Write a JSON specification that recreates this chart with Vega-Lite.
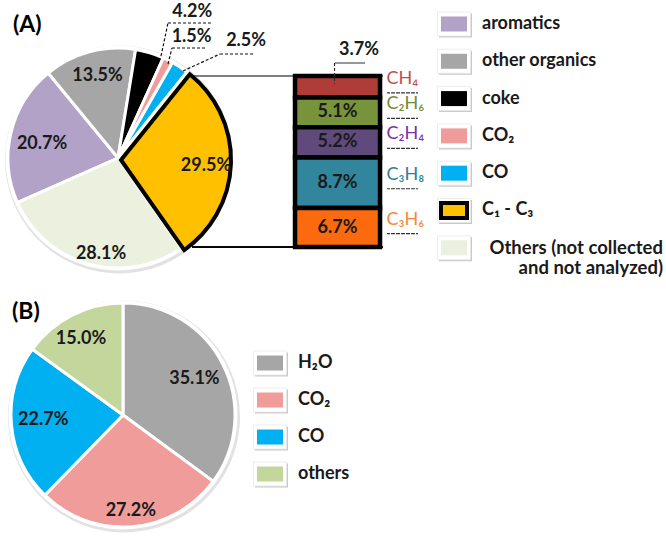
{
  "$schema": "https://vega.github.io/schema/vega-lite/v6.json",
  "background": "white",
  "padding": {"left": 2, "top": 2, "right": 0, "bottom": 0},
  "config": {"view": {"stroke": null}, "font": "Lato"},
  "datasets": {
    "A": [
      {"cat": "aromatics", "share": 0.207, "idx": 1},
      {"cat": "other organics", "share": 0.135, "idx": 2},
      {"cat": "coke", "share": 0.042, "idx": 3},
      {"cat": "CO₂", "share": 0.015, "idx": 4},
      {"cat": "CO", "share": 0.025, "idx": 5},
      {"cat": "C₁ - C₃", "share": 0.295, "idx": 6},
      {"cat": "Others (not collected and not analyzed)", "share": 0.281, "idx": 7}
    ],
    "B": [
      {"cat": "H₂O", "share": 0.351, "idx": 1},
      {"cat": "CO₂", "share": 0.272, "idx": 2},
      {"cat": "CO", "share": 0.227, "idx": 3},
      {"cat": "others", "share": 0.150, "idx": 4}
    ],
    "gases": [
      {"gas": "CH₄", "share": 0.037, "idx": 1, "of": "C₁ - C₃"},
      {"gas": "C₂H₆", "share": 0.051, "idx": 2, "of": "C₁ - C₃"},
      {"gas": "C₂H₄", "share": 0.052, "idx": 3, "of": "C₁ - C₃"},
      {"gas": "C₃H₈", "share": 0.087, "idx": 4, "of": "C₁ - C₃"},
      {"gas": "C₃H₆", "share": 0.067, "idx": 5, "of": "C₁ - C₃"}
    ]
  },
  "columns": 3,
  "align": "none",
  "bounds": "flush",
  "spacing": {"row": 0, "column": 0},
  "resolve": {"scale": {"fill": "independent", "theta": "independent", "x": "independent", "y": "independent", "opacity": "independent"}},
  "concat": [
    {
      "width": 148,
      "height": 294,
      "title": {"text": "(A)", "anchor": "start", "frame": "group", "fontSize": 23, "font": "Lato", "fontWeight": "bold", "color": "#000000", "baseline": "middle", "offset": 0, "dx": -31, "dy": 45.5},
      "data": {"name": "A"},
      "layer": [
        {
          "encoding": {
            "theta": {"field": "share", "type": "quantitative", "stack": true, "scale": {"range": [-1.988, 4.295]}},
            "order": {"field": "idx", "type": "quantitative"},
            "detail": {"field": "cat", "type": "nominal"}
          },
          "layer": [
            {"mark": {"type": "arc", "outerRadius": 114, "fill": "#e2e2e2", "xOffset": 1, "yOffset": 1.5}},
            {"mark": {"type": "arc", "outerRadius": 112.5, "fill": "white"}},
            {
              "mark": {"type": "arc", "outerRadius": 110, "stroke": "white", "strokeWidth": 3},
              "encoding": {"fill": {"field": "cat", "type": "nominal", "legend": null,
                "scale": {"domain": ["aromatics", "other organics", "coke", "CO₂", "CO", "C₁ - C₃", "Others (not collected and not analyzed)"],
                          "range": ["#B3A2C7", "#A6A6A6", "#000000", "#F09C9A", "#00B0F0", "#FFC000", "#EBF1DE"]}}}
            },
            {
              "mark": {"type": "arc", "outerRadius": 110, "stroke": "black", "strokeWidth": 4, "xOffset": 3, "yOffset": 2, "strokeJoin": "miter"},
              "encoding": {
                "fill": {"field": "cat", "type": "nominal", "legend": null},
                "opacity": {"condition": {"test": "datum.cat === 'C₁ - C₃'", "value": 1}, "value": 0}
              }
            },
            {"mark": {"type": "text", "radius": 85, "dx": 1.6, "dy": 0, "fontSize": 18, "fontWeight": "bold", "fill": "#1a1a1a"},
             "encoding": {"text": {"condition": {"test": "datum.cat === 'other organics'", "field": "share", "type": "quantitative", "format": ".1%"}, "value": ""}}},
            {"mark": {"type": "text", "radius": 76, "dx": -2, "dy": 4, "fontSize": 18, "fontWeight": "bold", "fill": "#1a1a1a"},
             "encoding": {"text": {"condition": {"test": "datum.cat === 'aromatics'", "field": "share", "type": "quantitative", "format": ".1%"}, "value": ""}}},
            {"mark": {"type": "text", "radius": 97, "dx": 9, "dy": 3, "fontSize": 18, "fontWeight": "bold", "fill": "#1a1a1a"},
             "encoding": {"text": {"condition": {"test": "datum.cat === 'Others (not collected and not analyzed)'", "field": "share", "type": "quantitative", "format": ".1%"}, "value": ""}}},
            {"mark": {"type": "text", "radius": 87, "dx": 1, "dy": 5, "fontSize": 18, "fontWeight": "bold", "fill": "#1a1a1a"},
             "encoding": {"text": {"condition": {"test": "datum.cat === 'C₁ - C₃'", "field": "share", "type": "quantitative", "format": ".1%"}, "value": ""}}},
            {"mark": {"type": "text", "radius": 150, "dx": 31, "dy": -2, "fontSize": 18, "fontWeight": "bold", "fill": "#1a1a1a"},
             "encoding": {"text": {"condition": {"test": "datum.cat === 'coke'", "field": "share", "type": "quantitative", "format": ".1%"}, "value": ""}}},
            {"mark": {"type": "text", "radius": 130, "dx": 14.5, "dy": -5, "fontSize": 18, "fontWeight": "bold", "fill": "#1a1a1a"},
             "encoding": {"text": {"condition": {"test": "datum.cat === 'CO₂'", "field": "share", "type": "quantitative", "format": ".1%"}, "value": ""}}},
            {"mark": {"type": "text", "radius": 150, "dx": 43.7, "dy": 7, "fontSize": 18, "fontWeight": "bold", "fill": "#1a1a1a"},
             "encoding": {"text": {"condition": {"test": "datum.cat === 'CO'", "field": "share", "type": "quantitative", "format": ".1%"}, "value": ""}}}
          ]
        },
        {"transform": [{"filter": "datum.cat === 'coke'"}],
         "mark": {"type": "rule", "stroke": "#111111", "strokeWidth": 1.2, "strokeDash": [3, 2]},
         "encoding": {"x": {"datum": 0.391, "type": "quantitative", "scale": {"domain": [-0.6727, 0.6727], "nice": false, "zero": false}, "axis": null},
                      "y": {"datum": 0.927, "type": "quantitative", "scale": {"domain": [-1.3364, 1.3364], "nice": false, "zero": false}, "axis": null},
                      "x2": {"datum": 0.4545}, "y2": {"datum": 1.2273}}},
        {"transform": [{"filter": "datum.cat === 'coke'"}],
         "mark": {"type": "rule", "stroke": "#111111", "strokeWidth": 1.2, "strokeDash": [3, 2]},
         "encoding": {"x": {"datum": 0.4545, "type": "quantitative"}, "y": {"datum": 1.2273, "type": "quantitative"},
                      "x2": {"datum": 0.8636}, "y2": {"datum": 1.2273}}},
        {"transform": [{"filter": "datum.cat === 'CO₂'"}],
         "mark": {"type": "rule", "stroke": "#111111", "strokeWidth": 1.2, "strokeDash": [3, 2]},
         "encoding": {"x": {"datum": 0.4545, "type": "quantitative"}, "y": {"datum": 0.8545, "type": "quantitative"},
                      "x2": {"datum": 0.4909}, "y2": {"datum": 1.0}}},
        {"transform": [{"filter": "datum.cat === 'CO₂'"}],
         "mark": {"type": "rule", "stroke": "#111111", "strokeWidth": 1.2, "strokeDash": [3, 2]},
         "encoding": {"x": {"datum": 0.4909, "type": "quantitative"}, "y": {"datum": 1.0, "type": "quantitative"},
                      "x2": {"datum": 0.8091}, "y2": {"datum": 1.0}}},
        {"transform": [{"filter": "datum.cat === 'CO'"}],
         "mark": {"type": "rule", "stroke": "#111111", "strokeWidth": 1.2, "strokeDash": [3, 2]},
         "encoding": {"x": {"datum": 0.5909, "type": "quantitative"}, "y": {"datum": 0.7909, "type": "quantitative"},
                      "x2": {"datum": 0.9273}, "y2": {"datum": 0.9455}}},
        {"transform": [{"filter": "datum.cat === 'CO'"}],
         "mark": {"type": "rule", "stroke": "#111111", "strokeWidth": 1.2, "strokeDash": [3, 2]},
         "encoding": {"x": {"datum": 0.9273, "type": "quantitative"}, "y": {"datum": 0.9455, "type": "quantitative"},
                      "x2": {"datum": 1.2273}, "y2": {"datum": 0.9455}}}
      ]
    },
    {
      "width": 191,
      "height": 294,
      "data": {"name": "gases"},
      "transform": [{"stack": "share", "groupby": ["of"], "sort": [{"field": "idx", "order": "descending"}], "as": ["v0", "v1"]}],
      "resolve": {"scale": {"fill": "independent"}},
      "layer": [
        {"mark": {"type": "rule", "stroke": "#000000", "strokeWidth": 1.2},
         "encoding": {"y": {"aggregate": "sum", "field": "share", "type": "quantitative", "scale": {"domain": [-0.0997, 0.4058], "nice": false, "zero": false}, "axis": null}}},
        {"mark": {"type": "rule", "stroke": "#000000", "strokeWidth": 1.2},
         "encoding": {"y": {"datum": 0, "type": "quantitative"}}},
        {"mark": {"type": "bar", "stroke": "#000000", "strokeWidth": 4.5},
         "encoding": {
           "x": {"field": "of", "type": "nominal", "axis": null, "scale": {"paddingInner": 0, "paddingOuter": 0.6235, "align": 0.972}},
           "y": {"field": "v0", "type": "quantitative"},
           "y2": {"field": "v1"},
           "fill": {"field": "gas", "type": "nominal", "legend": null,
                    "scale": {"domain": ["CH₄", "C₂H₆", "C₂H₄", "C₃H₈", "C₃H₆"], "range": ["#B03C38", "#77933C", "#604A7B", "#31859C", "#FB6A0F"]}}
         }},
        {"transform": [{"fold": ["v0", "v1"], "as": ["edge", "pos"]},
                       {"aggregate": [{"op": "mean", "field": "pos", "as": "mid"}], "groupby": ["gas", "share", "of"]},
                       {"filter": "datum.gas !== 'CH₄'"}],
         "mark": {"type": "text", "fontSize": 18, "fontWeight": "bold", "fill": "#1a1a1a"},
         "encoding": {"x": {"field": "of", "type": "nominal"}, "y": {"field": "mid", "type": "quantitative"},
                      "text": {"field": "share", "type": "quantitative", "format": ".1%"}}},
        {"transform": [{"fold": ["v0", "v1"], "as": ["edge", "pos"]},
                       {"aggregate": [{"op": "mean", "field": "pos", "as": "mid"}], "groupby": ["gas", "share", "of"]}],
         "mark": {"type": "text", "fontSize": 18, "align": "left", "dx": 49, "dy": -8},
         "encoding": {"x": {"field": "of", "type": "nominal"}, "y": {"field": "mid", "type": "quantitative"},
                      "text": {"field": "gas"},
                      "fill": {"field": "gas", "type": "nominal", "legend": null,
                               "scale": {"domain": ["CH₄", "C₂H₆", "C₂H₄", "C₃H₈", "C₃H₆"], "range": ["#C0504D", "#6F8B35", "#7A30A8", "#2E7F95", "#F7873A"]}}}},
        {"transform": [{"fold": ["v0", "v1"], "as": ["edge", "pos"]},
                       {"aggregate": [{"op": "mean", "field": "pos", "as": "mid"}], "groupby": ["gas", "share", "of"]}],
         "mark": {"type": "tick", "orient": "horizontal", "size": 31, "thickness": 0, "filled": false, "stroke": "#333333", "strokeWidth": 1.2, "strokeDash": [3, 2], "xOffset": 65, "yOffset": 6, "opacity": 1},
         "encoding": {"x": {"field": "of", "type": "nominal"}, "y": {"field": "mid", "type": "quantitative"}}},
        {"transform": [{"filter": "datum.gas === 'CH₄'"}],
         "mark": {"type": "text", "fontSize": 18, "fontWeight": "bold", "fill": "#1a1a1a", "dx": 21.5, "dy": -26},
         "encoding": {"x": {"field": "of", "type": "nominal"}, "y": {"field": "v1", "type": "quantitative"},
                      "text": {"field": "share", "type": "quantitative", "format": ".1%"}}},
        {"transform": [{"filter": "datum.gas === 'CH₄'"}],
         "mark": {"type": "tick", "orient": "horizontal", "size": 30, "thickness": 0, "filled": false, "stroke": "#333333", "strokeWidth": 1.2, "strokeDash": [3, 2], "xOffset": 12.5, "yOffset": -13, "opacity": 1},
         "encoding": {"x": {"field": "of", "type": "nominal"}, "y": {"field": "v1", "type": "quantitative"}}},
        {"transform": [{"filter": "datum.gas === 'CH₄'"}],
         "mark": {"type": "rule", "stroke": "#333333", "strokeWidth": 1.2, "strokeDash": [3, 2], "xOffset": -3, "yOffset": -13, "y2Offset": 8},
         "encoding": {"x": {"field": "of", "type": "nominal"}, "y": {"field": "v1", "type": "quantitative"}, "y2": {"field": "v1"}}}
      ]
    },
    {
      "width": 142,
      "height": 294,
      "data": {"name": "A"},
      "encoding": {"y": {"field": "cat", "type": "nominal", "axis": null,
        "scale": {"type": "point", "domain": ["aromatics", "other organics", "coke", "CO₂", "CO", "C₁ - C₃", "Others (not collected and not analyzed)"], "padding": 0.941, "align": 0.185}}},
      "layer": [
        {"mark": {"type": "point", "shape": "M-1.375,-1H1.375V1H-1.375Z", "size": 576, "filled": true, "fill": "#c9c9c9", "xOffset": 1.5, "yOffset": 1.5, "opacity": 1}},
        {"mark": {"type": "point", "shape": "M-1.375,-1H1.375V1H-1.375Z", "size": 576, "filled": true, "fill": "#ffffff", "stroke": "#e8e8e8", "strokeWidth": 0.8, "opacity": 1}},
        {"mark": {"type": "point", "shape": "M-1.7333,-1H1.7333V1H-1.7333Z", "size": 225, "filled": true, "opacity": 1},
         "encoding": {"fill": {"field": "cat", "type": "nominal", "legend": null,
           "scale": {"domain": ["aromatics", "other organics", "coke", "CO₂", "CO", "C₁ - C₃", "Others (not collected and not analyzed)"],
                     "range": ["#B3A2C7", "#A6A6A6", "#000000", "#F09C9A", "#00B0F0", "#FFC000", "#EBF1DE"]}}}},
        {"transform": [{"filter": "datum.cat === 'C₁ - C₃'"}],
         "mark": {"type": "point", "shape": "M-1.7333,-1H1.7333V1H-1.7333Z", "size": 225, "filled": false, "stroke": "#000000", "strokeWidth": 4, "opacity": 1}},
        {"transform": [{"filter": "datum.cat !== 'Others (not collected and not analyzed)'"}],
         "mark": {"type": "text", "align": "left", "dx": 28, "fontSize": 18, "fontWeight": "bold", "fill": "#1a1a1a"},
         "encoding": {"text": {"field": "cat"}}},
        {"transform": [{"filter": "datum.cat === 'Others (not collected and not analyzed)'"}],
         "mark": {"type": "text", "align": "right", "dx": 209, "dy": -9, "baseline": "top", "lineHeight": 20, "fontSize": 18.5, "fontWeight": "bold", "fill": "#1a1a1a"},
         "encoding": {"text": {"value": ["Others (not collected", "and not analyzed)"]}}}
      ]
    },
    {
      "width": 148,
      "height": 220,
      "title": {"text": "(B)", "anchor": "start", "frame": "group", "fontSize": 23, "font": "Lato", "fontWeight": "bold", "color": "#000000", "baseline": "middle", "offset": 0, "dx": -32, "dy": 38},
      "data": {"name": "B"},
      "encoding": {
        "theta": {"field": "share", "type": "quantitative", "stack": true},
        "order": {"field": "idx", "type": "quantitative"},
        "detail": {"field": "cat", "type": "nominal"}
      },
      "layer": [
        {"mark": {"type": "arc", "outerRadius": 116, "fill": "#e2e2e2", "xOffset": 6, "yOffset": 1.5}},
        {"mark": {"type": "arc", "outerRadius": 114.5, "fill": "white", "xOffset": 5}},
        {"mark": {"type": "arc", "outerRadius": 112, "stroke": "white", "strokeWidth": 3, "xOffset": 5},
         "encoding": {"fill": {"field": "cat", "type": "nominal", "legend": null,
           "scale": {"domain": ["H₂O", "CO₂", "CO", "others"], "range": ["#A6A6A6", "#F09C9A", "#00B0F0", "#C3D69B"]}}}},
        {"mark": {"type": "text", "radius": 80, "dx": 5, "dy": 0, "fontSize": 18, "fontWeight": "bold", "fill": "#1a1a1a"},
         "encoding": {"text": {"condition": {"test": "datum.cat === 'H₂O'", "field": "share", "type": "quantitative", "format": ".1%"}, "value": ""}}},
        {"mark": {"type": "text", "radius": 96, "dx": 5, "dy": 0, "fontSize": 18, "fontWeight": "bold", "fill": "#1a1a1a"},
         "encoding": {"text": {"condition": {"test": "datum.cat === 'CO₂'", "field": "share", "type": "quantitative", "format": ".1%"}, "value": ""}}},
        {"mark": {"type": "text", "radius": 80, "dx": 5, "dy": -2, "fontSize": 18, "fontWeight": "bold", "fill": "#1a1a1a"},
         "encoding": {"text": {"condition": {"test": "datum.cat === 'CO'", "field": "share", "type": "quantitative", "format": ".1%"}, "value": ""}}},
        {"mark": {"type": "text", "radius": 86, "dx": 2, "dy": 1, "fontSize": 18, "fontWeight": "bold", "fill": "#1a1a1a"},
         "encoding": {"text": {"condition": {"test": "datum.cat === 'others'", "field": "share", "type": "quantitative", "format": ".1%"}, "value": ""}}}
      ]
    },
    {
      "width": 156,
      "height": 185,
      "data": {"name": "B"},
      "encoding": {"y": {"field": "cat", "type": "nominal", "axis": null,
        "scale": {"type": "point", "domain": ["H₂O", "CO₂", "CO", "others"], "padding": 1, "align": 0.784}}},
      "layer": [
        {"mark": {"type": "point", "shape": "M-1.375,-1H1.375V1H-1.375Z", "size": 576, "filled": true, "fill": "#c9c9c9", "xOffset": 1.5, "yOffset": 1.5, "opacity": 1}},
        {"mark": {"type": "point", "shape": "M-1.375,-1H1.375V1H-1.375Z", "size": 576, "filled": true, "fill": "#ffffff", "stroke": "#e8e8e8", "strokeWidth": 0.8, "opacity": 1}},
        {"mark": {"type": "point", "shape": "M-1.7333,-1H1.7333V1H-1.7333Z", "size": 225, "filled": true, "opacity": 1},
         "encoding": {"fill": {"field": "cat", "type": "nominal", "legend": null,
           "scale": {"domain": ["H₂O", "CO₂", "CO", "others"], "range": ["#A6A6A6", "#F09C9A", "#00B0F0", "#C3D69B"]}}}},
        {"mark": {"type": "text", "align": "left", "dx": 28, "fontSize": 18, "fontWeight": "bold", "fill": "#1a1a1a"},
         "encoding": {"text": {"field": "cat"}}}
      ]
    }
  ]
}
